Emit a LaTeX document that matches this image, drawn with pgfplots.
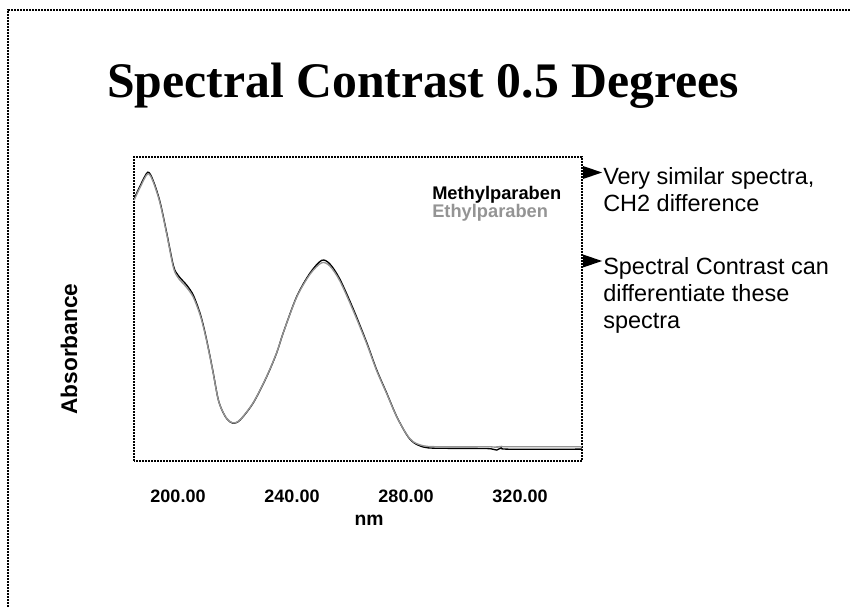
\documentclass[border=0pt]{standalone}
\usepackage{fontspec}
\setmainfont{Liberation Sans}
\newfontfamily\titlefont{Liberation Serif}
\usepackage{pgfplots}
\usepackage{pgfplotstable}
\pgfplotsset{compat=1.18}
\definecolor{ethylgray}{gray}{0.58}

% spectra (absorbance in arbitrary units, 0..1 over the box)
\pgfplotstableread{
nm A
184.6 0.862
186.7 0.905
189.4 0.950
191.3 0.922
193.7 0.852
196.0 0.752
198.4 0.642
200.1 0.610
203.1 0.578
205.4 0.545
207.7 0.487
209.1 0.438
210.5 0.378
212.3 0.293
214.0 0.207
215.4 0.168
217.2 0.138
219.3 0.124
221.8 0.135
226.4 0.191
231.1 0.277
234.6 0.355
236.9 0.421
241.6 0.540
246.3 0.618
250.4 0.660
253.3 0.648
256.8 0.598
261.5 0.500
266.2 0.390
269.7 0.300
273.2 0.224
276.7 0.147
280.2 0.087
282.6 0.061
286.1 0.046
290.8 0.042
308.3 0.041
311.8 0.036
313.6 0.045
315.3 0.039
341.7 0.039
}\methyl

\pgfplotstableread{
nm A
184.6 0.858
186.7 0.900
189.4 0.945
191.3 0.918
193.7 0.848
196.0 0.748
198.4 0.636
200.1 0.602
203.1 0.570
205.4 0.538
207.7 0.482
209.1 0.434
210.5 0.375
212.3 0.291
214.0 0.206
215.4 0.168
217.2 0.139
219.3 0.125
221.8 0.136
226.4 0.192
231.1 0.278
234.6 0.356
236.9 0.421
241.6 0.538
246.3 0.614
250.4 0.652
253.3 0.641
256.8 0.592
261.5 0.494
266.2 0.386
269.7 0.297
273.2 0.222
276.7 0.146
280.2 0.088
282.6 0.063
286.1 0.050
290.8 0.047
308.3 0.047
311.8 0.045
313.6 0.048
315.3 0.047
341.7 0.047
}\ethyl

\begin{document}
% 1 unit = 1 pixel of the 850x607 slide, y counted from the bottom
\begin{tikzpicture}[x=0.75pt,y=0.75pt]
\path[use as bounding box] (0,0) rectangle (850,607);
% slide frame
\draw[line width=1.1pt, dash pattern=on 1.5pt off 0.75pt] (850,597) -- (8,597) -- (8,0);

\node[font=\titlefont\bfseries\fontsize{37.3}{44}\selectfont, anchor=base west, inner sep=0]
  at (107,509) {Spectral Contrast 0.5 Degrees};

\begin{axis}[
    at={(134pt*0.75,146pt*0.75)}, anchor=south west,
    scale only axis, width=336pt, height=228pt,
    xmin=184.56, xmax=341.75,
    ymin=0, ymax=1,
    xtick={200,240,280,320},
    ytick=\empty,
    major tick length=0pt,
    /pgf/number format/.cd, fixed, fixed zerofill, precision=2, assume math mode=true,
    /pgfplots/.cd,
    xticklabel style={font=\bfseries\fontsize{13.5}{16}\selectfont, yshift=-18pt},
    axis line style={line width=1.1pt, dash pattern=on 1.5pt off 0.75pt},
    clip=false,
]
\addplot[black, line width=1pt, smooth] table[x=nm, y=A] {\methyl};
\addplot[ethylgray, line width=1pt, smooth] table[x=nm, y=A] {\ethyl};
\end{axis}

% axis titles
\node[font=\bfseries\fontsize{14.5}{17}\selectfont] at (369,87) {nm};
\node[font=\bfseries\fontsize{17}{20}\selectfont, rotate=90] at (69,258) {Absorbance};

% series names
\node[font=\bfseries\fontsize{13.7}{16}\selectfont, anchor=base west, inner sep=0] at (432,407) {Methylparaben};
\node[font=\bfseries\fontsize{13.7}{16}\selectfont, anchor=base west, inner sep=0, text=ethylgray] at (432,389) {Ethylparaben};

% notes on the right
\fill (583,441) -- (602,434.5) -- (583,428) -- cycle;
\fill (583,352.5) -- (602,346) -- (583,339.5) -- cycle;
\begin{scope}[every node/.style={font=\fontsize{17.6}{20}\selectfont, anchor=base west, inner sep=0}]
\node at (603,422) {Very similar spectra,};
\node at (603,395) {CH2 difference};
\node at (603,332) {Spectral Contrast can};
\node at (603,305) {differentiate these};
\node at (603,278) {spectra};
\end{scope}
\end{tikzpicture}
\end{document}
